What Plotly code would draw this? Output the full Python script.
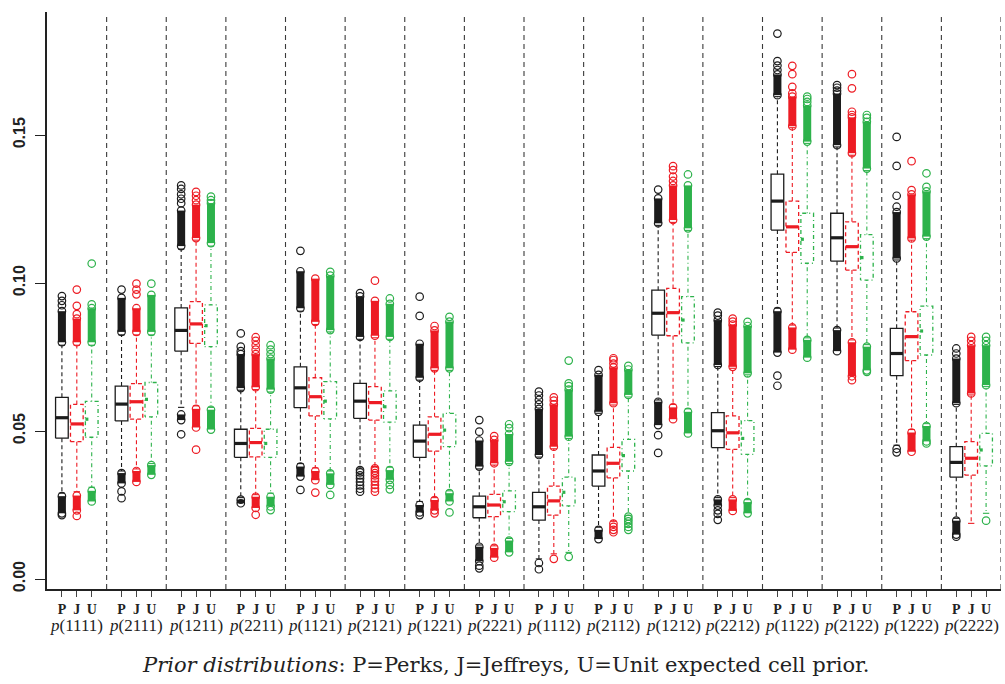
import plotly.graph_objects as go

groups = ["1111", "2111", "1211", "2211", "1121", "2121", "1221", "2221",
          "1112", "2112", "1212", "2212", "1122", "2122", "1222", "2222"]
prior_letters = ["P", "J", "U"]
y_ticks = [0.00, 0.05, 0.10, 0.15]
y_tick_text = ["0.00", "0.05", "0.10", "0.15"]
caption = "<i>Prior distributions</i>: P=Perks, J=Jeffreys, U=Unit expected cell prior."

# ---------------- P (Perks) ----------------
P_q1 = [0.0476, 0.0534, 0.0770, 0.0411, 0.0579, 0.0543, 0.0411, 0.0207, 0.0199, 0.0314, 0.0824, 0.0444, 0.1179, 0.1074, 0.0687, 0.0344]
P_med = [0.0545, 0.0591, 0.0840, 0.0458, 0.0646, 0.0601, 0.0466, 0.0244, 0.0244, 0.0365, 0.0898, 0.0501, 0.1277, 0.1153, 0.0762, 0.0394]
P_q3 = [0.0614, 0.0652, 0.0916, 0.0506, 0.0717, 0.0661, 0.0520, 0.0280, 0.0293, 0.0419, 0.0976, 0.0562, 0.1368, 0.1236, 0.0847, 0.0447]
P_wlo = [0.0290, 0.0365, 0.0580, 0.0275, 0.0390, 0.0375, 0.0262, 0.0115, 0.0068, 0.0175, 0.0605, 0.0275, 0.0915, 0.0848, 0.0452, 0.0205]
P_whi = [0.0790, 0.0825, 0.1115, 0.0638, 0.0905, 0.0810, 0.0672, 0.0372, 0.0412, 0.0560, 0.1195, 0.0718, 0.1630, 0.1460, 0.1078, 0.0590]
P_up_dense = [[0.0800, 0.0905], [0.0835, 0.0950], [0.1125, 0.1245], [0.0645, 0.0760], [0.0915, 0.1040], [0.0818, 0.0955],
              [0.0680, 0.0795], [0.0380, 0.0468], [0.0419, 0.0575], [0.0565, 0.0690], [0.1202, 0.1286], [0.0723, 0.0875],
              [0.1635, 0.1705], [0.1466, 0.1640], [0.1083, 0.1240], [0.0594, 0.0745]]
P_low_dense = [[0.0222, 0.0280], [0.0323, 0.0358], [0.0537, 0.0556], [0.0256, 0.0268], [0.0346, 0.0380], None,
               [0.0225, 0.0250], [0.0060, 0.0109], None, [0.0135, 0.0166], [0.0520, 0.0599], [0.0248, 0.0269],
               [0.0765, 0.0905], [0.0770, 0.0841], None, [0.0150, 0.0197]]
P_out = [[0.0925, 0.0940, 0.0956, 0.0216], [0.0978, 0.0296, 0.0273], [0.1270, 0.1285, 0.1300, 0.1318, 0.1330, 0.0489],
         [0.0770, 0.0785, 0.0830], [0.1109, 0.0301],
         [0.0966, 0.0368, 0.0360, 0.0350, 0.0340, 0.0328, 0.0316, 0.0305, 0.0295],
         [0.0889, 0.0954, 0.0216], [0.0498, 0.0537, 0.0045, 0.0036], [0.0590, 0.0605, 0.0620, 0.0633, 0.0054, 0.0033],
         [0.0706], [0.1316, 0.0486, 0.0426], [0.0890, 0.0900, 0.0232, 0.0220, 0.0200],
         [0.1720, 0.1735, 0.1750, 0.1843, 0.0687, 0.0653], [0.1650, 0.1660, 0.1669],
         [0.1258, 0.1295, 0.1396, 0.1494, 0.0440, 0.0428], [0.0762, 0.0779, 0.0143]]

# ---------------- J (Jeffreys) ----------------
J_q1 = [0.0464, 0.0540, 0.0796, 0.0413, 0.0551, 0.0537, 0.0432, 0.0211, 0.0216, 0.0342, 0.0822, 0.0438, 0.1104, 0.1044, 0.0738, 0.0351]
J_med = [0.0524, 0.0599, 0.0862, 0.0461, 0.0616, 0.0596, 0.0489, 0.0250, 0.0264, 0.0391, 0.0900, 0.0494, 0.1190, 0.1123, 0.0819, 0.0408]
J_q3 = [0.0590, 0.0660, 0.0937, 0.0509, 0.0680, 0.0650, 0.0548, 0.0286, 0.0314, 0.0445, 0.0982, 0.0551, 0.1277, 0.1207, 0.0903, 0.0464]
J_wlo = [0.0295, 0.0372, 0.0585, 0.0285, 0.0375, 0.0380, 0.0275, 0.0112, 0.0085, 0.0195, 0.0590, 0.0275, 0.0858, 0.0808, 0.0505, 0.0188]
J_whi = [0.0790, 0.0825, 0.1145, 0.0640, 0.0860, 0.0815, 0.0705, 0.0385, 0.0440, 0.0588, 0.1205, 0.0712, 0.1525, 0.1432, 0.1145, 0.0622]
J_up_dense = [[0.0800, 0.0880], [0.0835, 0.0915], [0.1152, 0.1265], [0.0648, 0.0760], [0.0869, 0.1015], [0.0822, 0.0940],
              [0.0712, 0.0840], [0.0391, 0.0470], [0.0447, 0.0590], [0.0594, 0.0715], [0.1213, 0.1330], [0.0717, 0.0860],
              [0.1530, 0.1630], [0.1439, 0.1560], [0.1151, 0.1300], [0.0627, 0.0790]]
J_low_dense = [[0.0232, 0.0282], [0.0328, 0.0365], [0.0512, 0.0575], [0.0240, 0.0278], [0.0334, 0.0365], None,
               [0.0232, 0.0267], [0.0072, 0.0105], None, None, [0.0540, 0.0580], [0.0230, 0.0269],
               [0.0775, 0.0850], [0.0685, 0.0800], [0.0430, 0.0495], None]
J_out = [[0.0895, 0.0923, 0.0978, 0.0213], [0.0962, 0.0978, 0.0998], [0.1280, 0.1295, 0.1308, 0.0437],
         [0.0775, 0.0790, 0.0805, 0.0817, 0.0217], [0.0292],
         [0.1008, 0.0374, 0.0366, 0.0358, 0.0350, 0.0340, 0.0330, 0.0318, 0.0306, 0.0295],
         [0.0855, 0.0222], [0.0483], [0.0603, 0.0614, 0.0068],
         [0.0728, 0.0740, 0.0746, 0.0187, 0.0176, 0.0166, 0.0158], [0.1345, 0.1360, 0.1382, 0.1395], [0.0870, 0.0880],
         [0.1641, 0.1663, 0.1706, 0.1734], [0.1568, 0.1579, 0.1658, 0.1706, 0.0672], [0.1314, 0.1412], [0.0805, 0.0818]]

# ---------------- U (Unit expected cell) ----------------
U_q1 = [0.0479, 0.0548, 0.0785, 0.0411, 0.0541, 0.0530, 0.0447, 0.0228, 0.0247, 0.0365, 0.0798, 0.0421, 0.1067, 0.1010, 0.0757, 0.0382]
U_med = [0.0540, 0.0607, 0.0856, 0.0458, 0.0601, 0.0582, 0.0503, 0.0261, 0.0293, 0.0417, 0.0875, 0.0475, 0.1148, 0.1086, 0.0838, 0.0436]
U_q3 = [0.0600, 0.0664, 0.0926, 0.0506, 0.0667, 0.0636, 0.0560, 0.0298, 0.0344, 0.0472, 0.0954, 0.0535, 0.1236, 0.1164, 0.0922, 0.0492]
U_wlo = [0.0310, 0.0390, 0.0580, 0.0290, 0.0365, 0.0378, 0.0298, 0.0137, 0.0090, 0.0215, 0.0575, 0.0268, 0.0815, 0.0792, 0.0525, 0.0222]
U_whi = [0.0790, 0.0825, 0.1125, 0.0632, 0.0835, 0.0810, 0.0705, 0.0390, 0.0475, 0.0615, 0.1178, 0.0690, 0.1472, 0.1380, 0.1150, 0.0650]
U_up_dense = [[0.0800, 0.0915], [0.0835, 0.0960], [0.1135, 0.1270], [0.0640, 0.0745], [0.0841, 0.1025], [0.0818, 0.0930],
              [0.0712, 0.0870], [0.0396, 0.0490], [0.0481, 0.0640], [0.0622, 0.0708], [0.1185, 0.1330], [0.0695, 0.0855],
              [0.1478, 0.1600], [0.1387, 0.1545], [0.1157, 0.1310], [0.0655, 0.0790]]
U_low_dense = [[0.0262, 0.0298], [0.0352, 0.0385], [0.0505, 0.0572], [0.0245, 0.0278], [0.0318, 0.0357], [0.0335, 0.0368],
               [0.0262, 0.0290], [0.0090, 0.0130], None, None, [0.0492, 0.0565], [0.0222, 0.0260],
               [0.0748, 0.0808], [0.0705, 0.0785], [0.0465, 0.0517], None]
U_out = [[0.0928, 0.1066], [0.0998], [0.1280, 0.1292], [0.0760, 0.0775, 0.0790, 0.0233], [0.1038, 0.0284],
         [0.0948, 0.0318, 0.0303], [0.0886, 0.0225], [0.0510, 0.0523], [0.0652, 0.0661, 0.0738, 0.0075],
         [0.0720, 0.0211, 0.0203, 0.0195, 0.0186, 0.0176, 0.0166], [0.1367], [0.0869],
         [0.1612, 0.1622, 0.1630], [0.1558, 0.1568, 0.0700], [0.1325, 0.1371, 0.0458], [0.0805, 0.0818, 0.0197]]

# ---------------- styling ----------------
COL = {"P": "#1c1c1c", "J": "#ED1C24", "U": "#2DB24B"}
BOXDASH = {"P": "solid", "J": "4px,3px", "U": "1px,3px,4px,3px"}
WHISKDASH = {"P": "4px,3px", "J": "4px,3px", "U": "1px,3px,4px,3px"}
MEDDASH = {"P": "solid", "J": "solid", "U": "3px,30px"}
BOX_W = 0.85
GROUP_SPAN = 4

data = {
    "P": (P_q1, P_med, P_q3, P_wlo, P_whi, P_up_dense, P_low_dense, P_out),
    "J": (J_q1, J_med, J_q3, J_wlo, J_whi, J_up_dense, J_low_dense, J_out),
    "U": (U_q1, U_med, U_q3, U_wlo, U_whi, U_up_dense, U_low_dense, U_out),
}

fig = go.Figure()

for k, pr in enumerate(prior_letters):
    q1, med, q3, wlo, whi, upd, lod, outl = data[pr]
    col = COL[pr]
    bx, by, wx, wy, sx, sy, mx, my = [], [], [], [], [], [], [], []
    dx, dy, ex, ey, ox, oy = [], [], [], [], [], []
    for g in range(len(groups)):
        c = GROUP_SPAN * g + k + 1
        l, r = c - BOX_W / 2, c + BOX_W / 2
        bx += [l, r, r, l, l, None]
        by += [q1[g], q1[g], q3[g], q3[g], q1[g], None]
        wx += [c, c, None, c, c, None]
        wy += [q3[g], whi[g], None, q1[g], wlo[g], None]
        sl, sr = c - BOX_W / 4, c + BOX_W / 4
        sx += [sl, sr, None, sl, sr, None]
        sy += [whi[g], whi[g], None, wlo[g], wlo[g], None]
        mx += [l, r, None]
        my += [med[g], med[g], None]
        for seg in (upd[g], lod[g]):
            if seg is not None:
                dx += [c, c, None]
                dy += [seg[0], seg[1], None]
                ex += [c, c]
                ey += [seg[0], seg[1]]
        for v in outl[g]:
            ox.append(c)
            oy.append(v)
    fig.add_trace(go.Scatter(x=wx, y=wy, mode="lines", hoverinfo="skip",
                             line=dict(color=col, width=1.1, dash=WHISKDASH[pr])))
    fig.add_trace(go.Scatter(x=sx, y=sy, mode="lines", hoverinfo="skip",
                             line=dict(color=col, width=1.1)))
    fig.add_trace(go.Scatter(x=bx, y=by, mode="lines", hoverinfo="skip",
                             line=dict(color=col, width=1.3, dash=BOXDASH[pr])))
    fig.add_trace(go.Scatter(x=mx, y=my, mode="lines", hoverinfo="skip",
                             line=dict(color=col, width=3.2, dash=MEDDASH[pr])))
    fig.add_trace(go.Scatter(x=dx, y=dy, mode="lines", hoverinfo="skip",
                             line=dict(color=col, width=8)))
    fig.add_trace(go.Scatter(x=ex + ox, y=ey + oy, mode="markers", hoverinfo="skip",
                             marker=dict(symbol="circle-open", size=7.5, color=col,
                                         line=dict(color=col, width=1.2))))

shapes = []
for g in range(1, len(groups) + 1):
    shapes.append(dict(type="line", xref="x", yref="paper", x0=GROUP_SPAN * g, x1=GROUP_SPAN * g,
                       y0=0, y1=0.995, line=dict(color="#3a3a3a", width=1.1, dash="5px,4px")))

annotations = []
for g, name in enumerate(groups):
    annotations.append(dict(xref="x", yref="paper", x=GROUP_SPAN * g + 2, y=0, yanchor="top",
                            yshift=-25, showarrow=False, text="<i>p</i>(" + name + ")",
                            font=dict(family="Liberation Serif", size=17, color="#222")))
annotations.append(dict(xref="paper", yref="paper", x=0.4806, y=0, yanchor="middle", yshift=-76,
                        showarrow=False, text=caption,
                        font=dict(family="DejaVu Serif", size=21, color="#222")))

tickvals = []
ticktext = []
for g in range(len(groups)):
    for k, pr in enumerate(prior_letters):
        tickvals.append(GROUP_SPAN * g + k + 1)
        ticktext.append("<b>" + pr + "</b>")

fig.update_layout(
    width=1005, height=684,
    margin=dict(l=47, r=4, t=12, b=95),
    paper_bgcolor="white", plot_bgcolor="white",
    showlegend=False,
    shapes=shapes, annotations=annotations,
    font=dict(family="Liberation Serif", color="#222"),
    xaxis=dict(range=[0, GROUP_SPAN * len(groups)], tickvals=tickvals, ticktext=ticktext,
               showgrid=False, zeroline=False, showline=True, linecolor="#222", linewidth=1.6,
               ticks="outside", ticklen=6, tickwidth=1, tickcolor="#444",
               tickfont=dict(family="Liberation Serif", size=14, color="#222")),
    yaxis=dict(range=[-0.00338, 0.1916], tickvals=y_ticks, ticktext=["<b>" + t + "</b>" for t in y_tick_text],
               showgrid=False, zeroline=False, showline=True, linecolor="#222", linewidth=1.6,
               ticks="outside", ticklen=10, tickwidth=1.2, tickcolor="#222", tickangle=-90,
               ticklabelstandoff=4,
               tickfont=dict(family="Liberation Sans", size=16, color="#222")),
)

fig.write_html("out.html", config={"displayModeBar": False},
               post_script="document.body.style.margin='0px';document.body.style.padding='0px';")
